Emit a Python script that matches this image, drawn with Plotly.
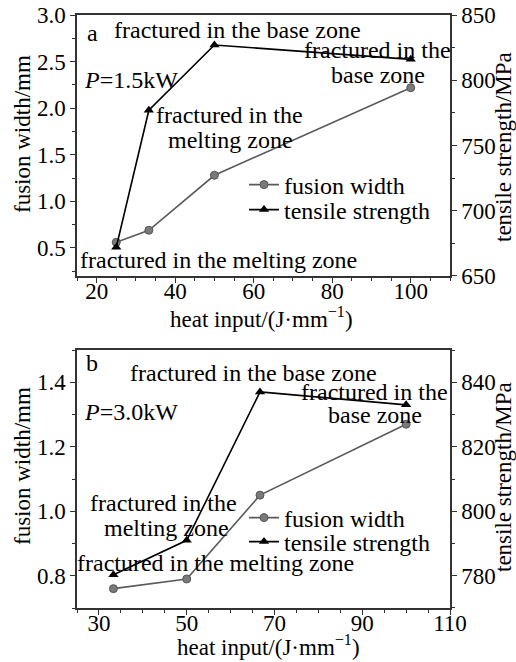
import plotly.graph_objects as go
from plotly.subplots import make_subplots

# ---- data ----
heat_a = [25, 33.3, 50, 100]
fusion_a = [0.56, 0.69, 1.28, 2.22]
tensile_a = [672, 777, 827, 816]

heat_b = [33.3, 50, 66.7, 100]
fusion_b = [0.76, 0.79, 1.05, 1.27]
tensile_b = [780.3, 791, 837, 833]

FONT = "Liberation Serif"
W, H = 516, 662
L, R, T, B = 77, 66, 15, 54
PW = W - L - R
PH = H - T - B


def px(x):
    return (x - L) / PW


def py(y):
    return (H - B - y) / PH


fig = make_subplots(rows=2, cols=1,
                    specs=[[{"secondary_y": True}], [{"secondary_y": True}]])

gray_line = dict(color="#5a5a5a", width=1.6)
gray_marker = dict(symbol="circle", size=8, color="#7a7a7a", line=dict(color="#555", width=1))
blk_line = dict(color="black", width=1.6)
blk_marker = dict(symbol="triangle-up", size=9, color="black")

fig.add_trace(go.Scatter(x=heat_a, y=fusion_a, mode="lines+markers", name="fusion width",
                         line=gray_line, marker=gray_marker, legend="legend", showlegend=True),
              row=1, col=1, secondary_y=False)
fig.add_trace(go.Scatter(x=heat_a, y=tensile_a, mode="lines+markers", name="tensile strength",
                         line=blk_line, marker=blk_marker, legend="legend2", showlegend=True),
              row=1, col=1, secondary_y=True)
fig.add_trace(go.Scatter(x=heat_b, y=fusion_b, mode="lines+markers", name="fusion width",
                         line=gray_line, marker=gray_marker, legend="legend3", showlegend=True),
              row=2, col=1, secondary_y=False)
fig.add_trace(go.Scatter(x=heat_b, y=tensile_b, mode="lines+markers", name="tensile strength",
                         line=blk_line, marker=blk_marker, legend="legend4", showlegend=True),
              row=2, col=1, secondary_y=True)

tickfont = dict(family=FONT, size=23, color="black")
axcommon = dict(showgrid=False, zeroline=False, showline=True, linecolor="#333", linewidth=1.5,
                ticks="outside", ticklen=5, tickwidth=1.2, tickcolor="#333", tickfont=tickfont,
                automargin=False)
minor_common = dict(ticklen=3, ticks="outside", tickcolor="#333", tickwidth=1)

xtitle = "heat input/(J·mm<sup>−1</sup>)"


def leg(x, y):
    return dict(x=px(x), y=py(y), xanchor="left", yanchor="middle", bgcolor="rgba(0,0,0,0)",
                font=dict(family=FONT, size=24, color="black"), tracegroupgap=0,
                itemwidth=30, borderwidth=0, visible=True)


fig.update_layout(
    width=W, height=H, margin=dict(l=L, r=R, t=T, b=B, autoexpand=False),
    plot_bgcolor="white", paper_bgcolor="white", showlegend=True,
    font=dict(family=FONT, size=22, color="black"),
    xaxis=dict(**axcommon, domain=[0, 1], range=[15, 110], dtick=20, tick0=0, mirror=True,
               ticklabelstandoff=-11,
               minor=dict(dtick=5, **minor_common)),
    yaxis=dict(**axcommon, domain=[0.56, 1], range=[0.2, 3.0], dtick=0.5, tick0=0, tickformat=".1f",
               minor=dict(dtick=0.25, **minor_common)),
    yaxis2=dict(**axcommon, range=[650, 850], dtick=50, tick0=0,
                minor=dict(dtick=25, **minor_common)),
    xaxis2=dict(**axcommon, domain=[0, 1], range=[25, 110], dtick=20, tick0=30, mirror=True,
                ticklabelstandoff=-11,
                minor=dict(dtick=5, tick0=30, **minor_common)),
    yaxis3=dict(**axcommon, domain=[0, 0.435], range=[0.7, 1.5], dtick=0.2, tick0=0, tickformat=".1f",
                minor=dict(dtick=0.1, **minor_common)),
    yaxis4=dict(**axcommon, range=[770, 850], dtick=20, tick0=0,
                minor=dict(dtick=10, **minor_common)),
    legend=leg(244, 185),
    legend2=leg(244, 210),
    legend3=leg(244, 518),
    legend4=leg(244, 542),
)

# axis titles: (text, px_x, px_y, angle)
titles = [
    (xtitle, 261, 318, 0),
    (xtitle, 268, 645, 0),
    ("fusion width/mm", 22, 134, -90),
    ("fusion width/mm", 22, 466, -90),
    ("tensile strength/MPa", 503, 147, -90),
    ("tensile strength/MPa", 503, 477, -90),
]
for text, x, y, ang in titles:
    fig.add_annotation(text=text, x=px(x), y=py(y), xref="paper", yref="paper",
                       xanchor="center", yanchor="middle", showarrow=False, textangle=ang,
                       font=dict(family=FONT, size=23, color="black"))

# text labels: (text, px_x, px_y, anchor)
labels = [
    ("a", 92, 33, "center"),
    ("fractured in the base zone", 237, 30, "center"),
    ("<i>P</i>=1.5kW", 82, 80, "left"),
    ("fractured in the", 229, 115, "center"),
    ("melting zone", 230, 140, "center"),
    ("fractured in the", 377, 50, "center"),
    ("base zone", 378, 75, "center"),
    ("fractured in the melting zone", 218, 260, "center"),
    ("b", 92, 363, "center"),
    ("fractured in the base zone", 253, 373, "center"),
    ("<i>P</i>=3.0kW", 82, 412, "left"),
    ("fractured in the", 374, 392, "center"),
    ("base zone", 375, 415, "center"),
    ("fractured in the", 163, 503, "center"),
    ("melting zone", 166, 528, "center"),
    ("fractured in the melting zone", 215, 563, "center"),
]
for text, x, y, anc in labels:
    fig.add_annotation(text=text, x=px(x), y=py(y), xref="paper", yref="paper",
                       xanchor=anc, yanchor="middle", showarrow=False,
                       font=dict(family=FONT, size=24, color="black"))

fig.write_html("out.html")
